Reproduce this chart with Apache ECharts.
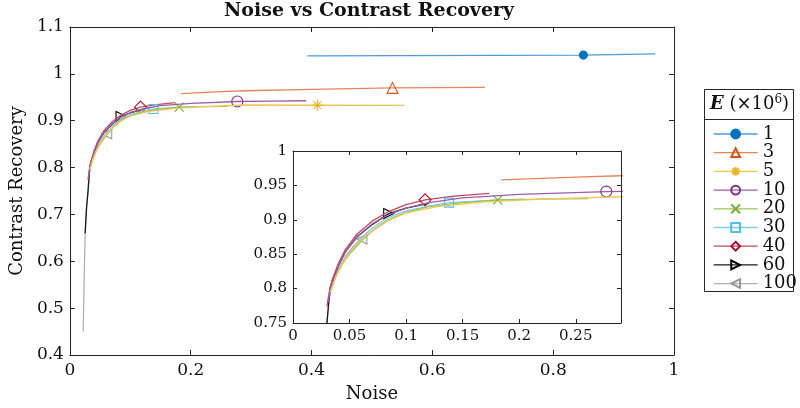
<!DOCTYPE html>
<html><head><meta charset="utf-8">
<script src="https://cdn.jsdelivr.net/npm/echarts@6/dist/echarts.min.js"></script>
<style>html,body{margin:0;padding:0;background:#fff}#c{width:800px;height:408px}</style>
</head><body><div id="c"></div>
<script>
// ---------- data ----------
const seriesNames = ['1', '3', '5', '10', '20', '30', '40', '60', '100'];

const noiseE1 = [0.393, 0.550, 0.700, 0.850, 0.969];
const crE1    = [1.0385, 1.039, 1.0395, 1.040, 1.0425];

const noiseE3 = [0.184, 0.250, 0.290, 0.400, 0.534, 0.687];
const crE3    = [0.958, 0.962, 0.964, 0.967, 0.970, 0.971];

const noiseE5 = [0.0330, 0.0380, 0.0450, 0.0540, 0.0650, 0.0800, 0.1000, 0.1300, 0.1700, 0.2200, 0.2900, 0.4095, 0.5540];
const crE5    = [0.795, 0.818, 0.840, 0.860, 0.878, 0.896, 0.910, 0.920, 0.926, 0.930, 0.9335, 0.933, 0.9326];

const noiseE10 = [0.0310, 0.0340, 0.0400, 0.0470, 0.0570, 0.0700, 0.0850, 0.1000, 0.1200, 0.1500, 0.2000, 0.2770, 0.3300, 0.3910];
const crE10    = [0.780, 0.805, 0.833, 0.855, 0.876, 0.894, 0.908, 0.917, 0.925, 0.932, 0.937, 0.941, 0.942, 0.9426];

const noiseE20 = [0.0330, 0.0370, 0.0430, 0.0510, 0.0610, 0.0720, 0.0850, 0.1000, 0.1200, 0.1500, 0.1810, 0.2200, 0.2610];
const crE20    = [0.795, 0.815, 0.835, 0.852, 0.870, 0.887, 0.901, 0.911, 0.919, 0.925, 0.929, 0.930, 0.9307];

const noiseE30 = [0.0320, 0.0350, 0.0410, 0.0480, 0.0570, 0.0700, 0.0850, 0.1000, 0.1200, 0.1380, 0.1700, 0.2050];
const crE30    = [0.790, 0.808, 0.828, 0.848, 0.868, 0.888, 0.904, 0.913, 0.920, 0.925, 0.928, 0.930];

const noiseE40 = [0.0300, 0.0320, 0.0345, 0.0400, 0.0460, 0.0565, 0.0700, 0.0845, 0.1000, 0.1168, 0.1400, 0.1736];
const crE40    = [0.774, 0.795, 0.812, 0.836, 0.856, 0.879, 0.898, 0.912, 0.922, 0.929, 0.934, 0.9385];

const noiseE60 = [0.0252, 0.0275, 0.0300, 0.0315, 0.0330, 0.0400, 0.0460, 0.0565, 0.0700, 0.0846, 0.1000, 0.1200];
const crE60    = [0.660, 0.715, 0.750, 0.778, 0.803, 0.832, 0.853, 0.875, 0.893, 0.909, 0.917, 0.924];

const noiseE100 = [0.0219, 0.0235, 0.0252, 0.0275, 0.0300, 0.0315, 0.0335, 0.0400, 0.0460, 0.0530, 0.0609, 0.0720, 0.0850];
const crE100    = [0.450, 0.560, 0.660, 0.715, 0.750, 0.778, 0.801, 0.826, 0.846, 0.861, 0.872, 0.886, 0.900];

// index of the single marker drawn on each curve
const markerIndex = [3, 4, 11, 11, 10, 9, 9, 9, 10];

// axis ranges / ticks
const mainX = { min: 0, max: 1, interval: 0.2 };
const mainY = { min: 0.4, max: 1.1, interval: 0.1 };
const insetX = { min: 0, max: 0.29, interval: 0.05 };
const insetY = { min: 0.75, max: 1, interval: 0.05 };

// ---------- styling ----------
const noiseAll = [noiseE1, noiseE3, noiseE5, noiseE10, noiseE20, noiseE30, noiseE40, noiseE60, noiseE100];
const crAll = [crE1, crE3, crE5, crE10, crE20, crE30, crE40, crE60, crE100];
const markColors = ['#0072BD', '#D95319', '#EDB120', '#7E2F8E', '#77AC30', '#4DBEEE', '#A2142F', '#000000', '#999999'];
const lineColors = ['#4d9bd8', '#e8845a', '#f2c654', '#9a5fa8', '#94c45a', '#7dd0f2', '#bf4a5f', '#1a1a1a', '#b0b0b0'];
const symbols = [
  'circle', 'triangle', 'path://M5,0L5,10M0,5L10,5M1.5,1.5L8.5,8.5M1.5,8.5L8.5,1.5', 'circle',
  'path://M0,0L10,10M0,10L10,0', 'rect', 'diamond', 'path://M0,0L10,5L0,10Z', 'path://M10,0L0,5L10,10Z'
];
const symSizes = [8, 11, 11, 11, 9, 9, 12, 10, 10];
const FONT = 'DejaVu Serif';
const AX = '#262626';

function makeSeries(i, xi, yi) {
  const data = noiseAll[i].map((x, j) => j === markerIndex[i]
    ? { value: [x, crAll[i][j]] }
    : { value: [x, crAll[i][j]], symbol: 'none' });
  return {
    type: 'line', name: seriesNames[i], xAxisIndex: xi, yAxisIndex: yi, data,
    symbol: symbols[i], symbolSize: symSizes[i], showSymbol: true, showAllSymbol: true,
    lineStyle: { color: lineColors[i], width: 1.3 },
    itemStyle: { color: i === 0 ? markColors[0] : 'rgba(255,255,255,0)', borderColor: markColors[i], borderWidth: 1.1 },
    emphasis: { disabled: true }, clip: true, animation: false, z: 3 + (8 - i) * 0.01
  };
}

function axisPair(r, gridIndex, fontSize, labelMargin, pos, tickLen) {
  const common = {
    type: 'value', gridIndex, min: r.min, max: r.max, interval: r.interval,
    splitLine: { show: false }, z: 5,
    axisLine: { show: true, onZero: false, lineStyle: { color: AX, width: 1 } },
    axisTick: { show: true, inside: true, length: tickLen, lineStyle: { color: AX } },
  };
  const onTick = Math.abs(Math.round(r.max / r.interval) * r.interval - r.max) < 1e-9;
  return [
    Object.assign({}, common, { position: pos[0],
      axisLabel: { show: true, margin: labelMargin, color: '#111', fontFamily: FONT, fontSize, showMaxLabel: onTick } }),
    Object.assign({}, common, { position: pos[1], axisLabel: { show: false } })
  ];
}

const xAxes = [...axisPair(mainX, 0, 17, 7, ['bottom', 'top'], 5), ...axisPair(insetX, 1, 15, 6, ['bottom', 'top'], 4)];
const yAxes = [...axisPair(mainY, 0, 17, 6, ['left', 'right'], 5), ...axisPair(insetY, 1, 15, 6, ['left', 'right'], 4)];
xAxes[0].name = 'Noise'; xAxes[0].nameLocation = 'middle'; xAxes[0].nameGap = 30;
xAxes[0].nameTextStyle = { fontFamily: FONT, fontSize: 18, color: '#111' };
yAxes[0].name = 'Contrast Recovery'; yAxes[0].nameLocation = 'middle'; yAxes[0].nameGap = 36;
yAxes[0].nameTextStyle = { fontFamily: FONT, fontSize: 18, color: '#111' };

const series = [];
for (let i = 0; i < seriesNames.length; i++) series.push(makeSeries(i, 0, 0));
for (let i = 0; i < seriesNames.length; i++) series.push(makeSeries(i, 2, 2));

const chart = echarts.init(document.getElementById('c'), null, { renderer: 'canvas' });
chart.setOption({
  animation: false,
  backgroundColor: '#ffffff',
  grid: [
    { left: 66, top: 27, width: 608, height: 329, containLabel: false },
    { left: 293, top: 151, width: 328, height: 172, show: true, backgroundColor: '#ffffff', borderWidth: 0 }
  ],
  xAxis: xAxes,
  yAxis: yAxes,
  legend: {
    data: seriesNames, orient: 'vertical', left: 708, top: 120,
    itemWidth: 44, itemHeight: 11, itemGap: 0.7, selectedMode: false,
    lineStyle: { width: 1.3 },
    textStyle: { fontFamily: FONT, fontSize: 18, color: '#111' }
  },
  graphic: [
    { type: 'text', x: 369, y: 2, style: { text: 'Noise vs Contrast Recovery', textAlign: 'center', fontFamily: FONT, fontWeight: 'bold', fontSize: 19, fill: '#111' } },
    { type: 'rect', shape: { x: 704.5, y: 89.5, width: 89, height: 202 }, style: { fill: 'none', stroke: AX, lineWidth: 1 }, z: 10 },
    { type: 'line', shape: { x1: 704.5, y1: 119.5, x2: 793.5, y2: 119.5 }, style: { stroke: AX, lineWidth: 1 }, z: 10 },
    { type: 'text', x: 710, y: 94, z: 10, style: {
      text: '{e|E} (×10{s|6})', fontFamily: FONT, fontSize: 18, fill: '#111',
      rich: { e: { fontFamily: FONT, fontSize: 18, fontWeight: 'bold', fontStyle: 'italic' }, s: { fontFamily: FONT, fontSize: 12, padding: [0, 0, 9, 0] } }
    } }
  ],
  series
});
</script>
</body></html>
